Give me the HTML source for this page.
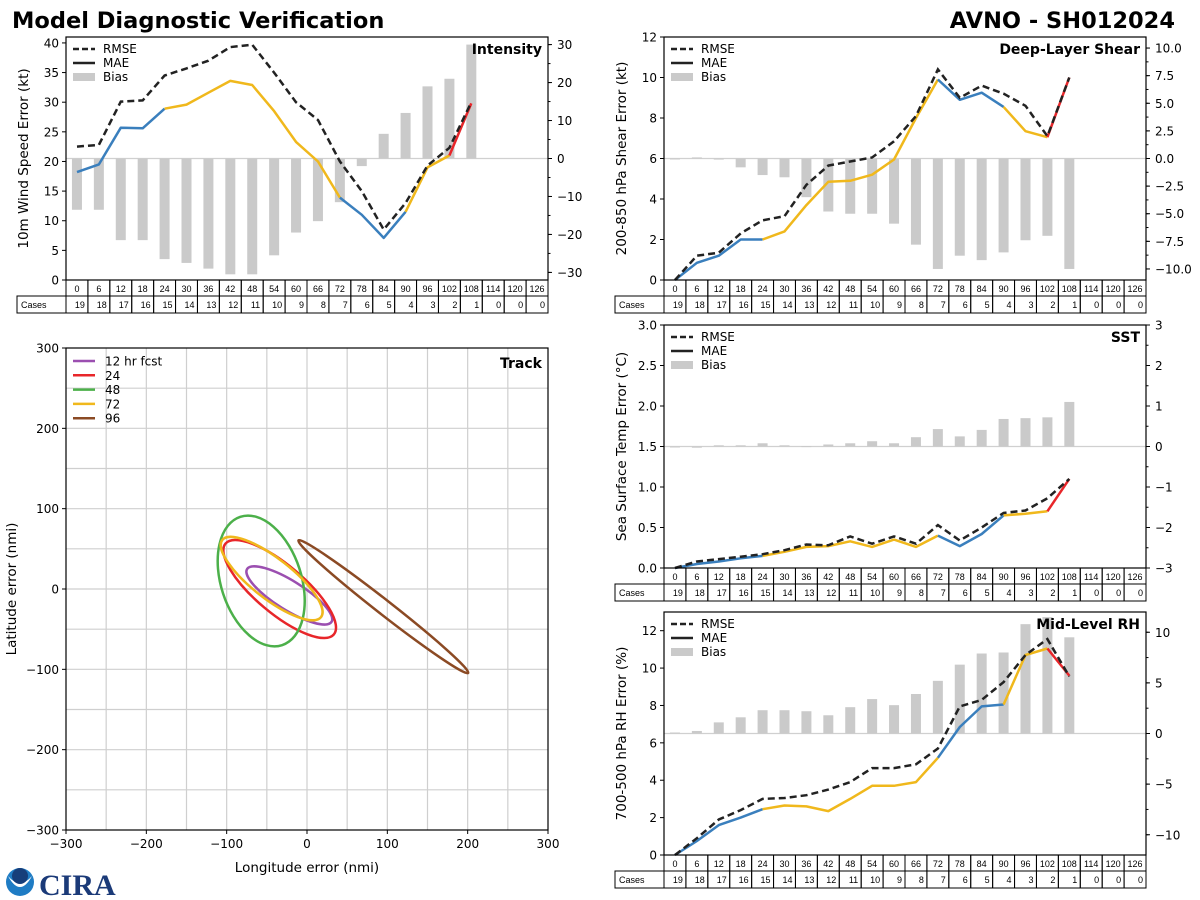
<!DOCTYPE html>
<html><head><meta charset="utf-8">
<style>
html,body{margin:0;padding:0;background:#fff;}
svg{display:block;font-family:"DejaVu Sans","Liberation Sans",sans-serif;}
</style></head>
<body>
<svg id="fig" width="1200" height="900" viewBox="0 0 1200 900" xmlns="http://www.w3.org/2000/svg">
<text x="12" y="28" font-size="22.5" font-weight="bold">Model Diagnostic Verification</text>
<text x="1175" y="28" font-size="22.5" font-weight="bold" text-anchor="end">AVNO - SH012024</text>
<g>
<circle cx="20" cy="882" r="14" fill="#1f7cc4"/>
<path d="M8,876 Q20,898 32,876 Q20,890 8,876Z" fill="#fff"/>
<circle cx="20" cy="876" r="8" fill="#163e7a"/>
<text x="39" y="895" font-size="30" font-weight="bold" fill="#1b3a78" font-family="Liberation Serif, serif">CIRA</text>
</g>
</svg>
<script>
const NS='http://www.w3.org/2000/svg';
const svg=document.getElementById('fig');
function mk(tag,attrs,parent){const e=document.createElementNS(NS,tag);for(const k in attrs)e.setAttribute(k,attrs[k]);(parent||svg).appendChild(e);return e;}

const leads=[0,6,12,18,24,30,36,42,48,54,60,66,72,78,84,90,96,102,108,114,120,126];
const cases=[19,18,17,16,15,14,13,12,11,10,9,8,7,6,5,4,3,2,1,0,0,0];
const segColors=[[0,4,'#3a7fbd'],[4,12,'#f0b81c'],[12,15,'#3a7fbd'],[15,17,'#f0b81c'],[17,18,'#e8262a']];

const intRmse=[22.5,22.8,30.1,30.3,34.5,35.7,37.0,39.3,39.7,35.0,30.0,27.0,20.0,15.0,8.5,13.0,19.3,22.3,30.0];
const intMae=[18.2,19.5,25.7,25.6,28.9,29.6,31.6,33.6,32.9,28.5,23.3,20.0,13.9,11.0,7.1,11.5,19.0,21.0,29.8];
const intBias=[-13.5,-13.5,-21.5,-21.5,-26.5,-27.5,-29,-30.5,-30.5,-25.5,-19.5,-16.5,-11.5,-2,6.5,12,19,21,30];

const shrRmse=[0,1.2,1.35,2.3,2.95,3.15,4.7,5.65,5.85,6.05,6.85,8.1,10.4,9.0,9.6,9.2,8.6,7.1,10.0];
const shrMae=[0,0.85,1.2,2.0,2.0,2.4,3.7,4.85,4.9,5.2,5.95,8.0,9.9,8.9,9.25,8.55,7.35,7.05,10.0];
const shrBias=[0.0,0.1,-0.1,-0.8,-1.5,-1.7,-3.5,-4.8,-5.0,-5.0,-5.9,-7.8,-10.0,-8.8,-9.2,-8.5,-7.4,-7.0,-10.0];

const sstRmse=[0,0.08,0.11,0.14,0.17,0.22,0.29,0.28,0.39,0.3,0.39,0.3,0.53,0.34,0.5,0.68,0.71,0.86,1.1];
const sstMae=[0,0.05,0.08,0.12,0.15,0.2,0.26,0.27,0.33,0.26,0.35,0.26,0.4,0.27,0.42,0.65,0.67,0.7,1.1];
const sstBias=[0,-0.03,0.03,0.03,0.08,0.03,0.01,0.05,0.08,0.13,0.08,0.23,0.43,0.25,0.41,0.68,0.7,0.72,1.1];

const rhRmse=[0,0.9,1.9,2.4,3.0,3.05,3.2,3.5,3.9,4.65,4.65,4.85,5.7,7.95,8.3,9.25,10.7,11.55,9.55];
const rhMae=[0,0.75,1.6,2.0,2.45,2.65,2.6,2.35,3.0,3.7,3.7,3.9,5.2,6.85,7.95,8.05,10.7,11.05,9.6];
const rhBias=[0.1,0.25,1.1,1.6,2.3,2.3,2.2,1.8,2.6,3.4,2.8,3.9,5.2,6.8,7.9,8.0,10.8,11.5,9.5];

const trackLabels=['12 hr fcst','24','48','72','96'];
const trackColors=['#9b4fb0','#e8262a','#4cb04a','#f0b81c','#8b4a24'];
const trackCx=[-22,-34,-57,-44,95];
const trackCy=[-8,0,10,13,-22];
const trackA=[62,88,84,78,134];
const trackB=[18,30,50,25,9];
const trackAng=[-32,-40,-72,-38,-38];

function panel(o){
  const g=mk('g',{});
  
  
  const L=o.x0,R=o.x1,T=o.y0,B=o.y1,W=R-L,n=22,cw=W/n;
  const xs=i=>L+cw*(i+0.5);
  const yl=v=>B-(v-o.lmin)/(o.lmax-o.lmin)*(B-T);
  const yr=v=>B-(v-o.rmin)/(o.rmax-o.rmin)*(B-T);
  const zl=mk('line',{x1:L,x2:R,y1:yr(0),y2:yr(0),stroke:'#d0d0d0','stroke-width':1.2},g);
  
  
  o.bias.forEach((v,i)=>{
    const y0=yr(0),y1=yr(v);
    const r=mk('rect',{x:xs(i)-5,y:Math.min(y0,y1),width:10,height:Math.max(Math.abs(y1-y0),1),fill:'#cacaca'},g);
    
    
  });
  segColors.forEach(s=>{
    let d='';
    for(let i=s[0];i<=s[1];i++)d+=(i==s[0]?'M':'L')+xs(i).toFixed(1)+','+yl(o.mae[i]).toFixed(1);
    const p=mk('path',{d:d,fill:'none',stroke:s[2],'stroke-width':2.5,'stroke-linejoin':'round'},g);
    
    
  });
  let d='';
  o.rmse.forEach((v,i)=>{d+=(i?'L':'M')+xs(i).toFixed(1)+','+yl(v).toFixed(1);});
  const rp=mk('path',{d:d,fill:'none',stroke:'#222','stroke-width':2.5,'stroke-dasharray':'7,4'},g);
  
  
  const fr=mk('rect',{x:L,y:T,width:W,height:B-T,fill:'none',stroke:'#000','stroke-width':1.2},g);
  
  
  o.lticks.forEach(v=>{
    const y=yl(v);
    mk('line',{x1:L-4,x2:L,y1:y,y2:y,stroke:'#000'},g);
    const t=mk('text',{x:L-7,y:y+4.5,'font-size':12,'text-anchor':'end'},g);
    t.textContent=o.lfmt(v);
    
    
  });
  o.rticks.forEach(v=>{
    const y=yr(v);
    mk('line',{x1:R,x2:R+4,y1:y,y2:y,stroke:'#000'},g);
    const t=mk('text',{x:R+9,y:y+4.5,'font-size':12},g);
    t.textContent=o.rfmt(v);
    
    
  });
  (o.rminor||[]).forEach(v=>{const y=yr(v);mk('line',{x1:R,x2:R+2.5,y1:y,y2:y,stroke:'#000'},g);});
  const yt=mk('text',{x:0,y:0,'font-size':13.5,'text-anchor':'middle',transform:`translate(${L-38},${(T+B)/2}) rotate(-90)`},g);
  yt.textContent=o.ylabel;
  
  
  const pt=mk('text',{x:R-6,y:T+17,'font-size':14,'font-weight':'bold','text-anchor':'end'},g);
  pt.textContent=o.title;
  
  
  const lg=mk('g',{},g);
  
  
  mk('line',{x1:L+7,x2:L+29,y1:T+12,y2:T+12,stroke:'#222','stroke-width':2.5,'stroke-dasharray':'6,3'},lg);
  mk('line',{x1:L+7,x2:L+29,y1:T+26,y2:T+26,stroke:'#222','stroke-width':2.5},lg);
  mk('rect',{x:L+7,y:T+36,width:22,height:8,fill:'#cacaca'},lg);
  [['RMSE',T+16],['MAE',T+30],['Bias',T+44]].forEach(a=>{const t=mk('text',{x:L+37,y:a[1],'font-size':12},lg);t.textContent=a[0];});
  const tb=mk('g',{'font-family':'Liberation Sans, sans-serif'},g);
  
  
  const h1=B,h2=B+16;
  leads.forEach((h,i)=>{
    const x=L+cw*i;
    mk('rect',{x:x,y:h1,width:cw,height:16,fill:'none',stroke:'#000','stroke-width':1},tb);
    mk('rect',{x:x,y:h2,width:cw,height:17,fill:'none',stroke:'#000','stroke-width':1},tb);
    const t=mk('text',{x:x+cw/2,y:h1+12,'font-size':9,'text-anchor':'middle'},tb);t.textContent=h;
    const c=mk('text',{x:x+cw-3,y:h2+12,'font-size':9,'text-anchor':'end'},tb);c.textContent=cases[i];
  });
  mk('rect',{x:o.cx,y:h2,width:L-o.cx,height:17,fill:'none',stroke:'#000','stroke-width':1},tb);
  const ct=mk('text',{x:o.cx+4,y:h2+12,'font-size':9},tb);ct.textContent='Cases';
}
const fmt0=v=>String(v).replace('-','\u2212');
const fmt1=v=>v.toFixed(1).replace('-','\u2212');
function range(a,b,s){const r=[];for(let v=a;v<=b+1e-9;v+=s)r.push(Math.round(v*100)/100);return r;}

panel({name:'intensity-panel',title:'Intensity',x0:66,x1:548,y0:37,y1:280,cx:17,lmin:0,lmax:41,rmin:-32,rmax:32,
  lticks:range(0,40,5),rticks:range(-30,30,10),rminor:range(-30,30,5),lfmt:fmt0,rfmt:fmt0,
  ylabel:'10m Wind Speed Error (kt)',rmse:intRmse,mae:intMae,bias:intBias});
panel({name:'shear-panel',title:'Deep-Layer Shear',x0:664,x1:1146,y0:37,y1:280,cx:615,lmin:0,lmax:12,rmin:-11,rmax:11,
  lticks:range(0,12,2),rticks:range(-10,10,2.5),rminor:range(-10,10,1.25),lfmt:fmt0,rfmt:fmt1,
  ylabel:'200-850 hPa Shear Error (kt)',rmse:shrRmse,mae:shrMae,bias:shrBias});
panel({name:'sst-panel',title:'SST',x0:664,x1:1146,y0:325,y1:568,cx:615,lmin:0,lmax:3,rmin:-3,rmax:3,
  lticks:range(0,3,0.5),rticks:range(-3,3,1),rminor:range(-3,3,0.5),lfmt:fmt1,rfmt:fmt0,
  ylabel:'Sea Surface Temp Error (\u00B0C)',rmse:sstRmse,mae:sstMae,bias:sstBias});
panel({name:'rh-panel',title:'Mid-Level RH',x0:664,x1:1146,y0:612,y1:855,cx:615,lmin:0,lmax:13,rmin:-12,rmax:12,
  lticks:range(0,12,2),rticks:range(-10,10,5),rminor:range(-10,10,2.5),lfmt:fmt0,rfmt:fmt0,
  ylabel:'700-500 hPa RH Error (%)',rmse:rhRmse,mae:rhMae,bias:rhBias});

(function(){
  const L=66,R=548,T=348,B=830;
  const sx=v=>L+(v+300)/600*(R-L);
  const sy=v=>B-(v+300)/600*(B-T);
  const g=mk('g',{});
  
  
  range(-250,250,50).forEach(v=>{
    mk('line',{x1:sx(v),x2:sx(v),y1:T,y2:B,stroke:'#cfcfcf','stroke-width':1.2},g);
    mk('line',{x1:L,x2:R,y1:sy(v),y2:sy(v),stroke:'#cfcfcf','stroke-width':1.2},g);
  });
  trackCx.forEach((cx,i)=>{
    const e=mk('ellipse',{cx:sx(cx),cy:sy(trackCy[i]),rx:trackA[i]*(R-L)/600,ry:trackB[i]*(R-L)/600,fill:'none',stroke:trackColors[i],'stroke-width':2.5,
      transform:`rotate(${-trackAng[i]} ${sx(cx)} ${sy(trackCy[i])})`},g);
    
    
  });
  mk('rect',{x:L,y:T,width:R-L,height:B-T,fill:'none',stroke:'#000','stroke-width':1.2},g);
  range(-300,300,100).forEach(v=>{
    mk('line',{x1:sx(v),x2:sx(v),y1:B,y2:B+4,stroke:'#000'},g);
    const t=mk('text',{x:sx(v),y:B+18,'font-size':12,'text-anchor':'middle'},g);t.textContent=fmt0(v);
    
    
    mk('line',{x1:L-4,x2:L,y1:sy(v),y2:sy(v),stroke:'#000'},g);
    const u=mk('text',{x:L-7,y:sy(v)+4.5,'font-size':12,'text-anchor':'end'},g);u.textContent=fmt0(v);
    
    
  });
  const xt=mk('text',{x:(L+R)/2,y:B+42,'font-size':13.5,'text-anchor':'middle'},g);xt.textContent='Longitude error (nmi)';
  
  
  const yt=mk('text',{x:0,y:0,'font-size':13.5,'text-anchor':'middle',transform:`translate(${L-50},${(T+B)/2}) rotate(-90)`},g);yt.textContent='Latitude error (nmi)';
  
  
  const pt=mk('text',{x:R-6,y:T+20,'font-size':14,'font-weight':'bold','text-anchor':'end'},g);pt.textContent='Track';
  
  
  const lg=mk('g',{},g);
  
  
  trackLabels.forEach((lab,i)=>{
    const y=T+13+i*14.3;
    mk('line',{x1:L+7,x2:L+29,y1:y,y2:y,stroke:trackColors[i],'stroke-width':2.5},lg);
    const t=mk('text',{x:L+39,y:y+4.5,'font-size':12},lg);t.textContent=lab;
  });
})();
</script>
</body></html>
